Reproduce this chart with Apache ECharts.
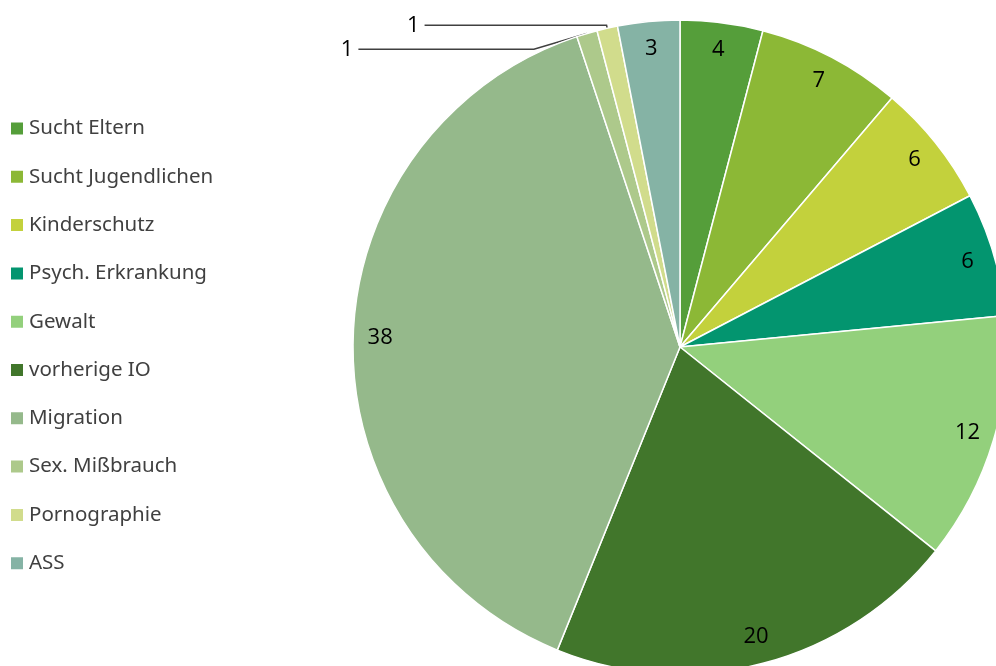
<!DOCTYPE html>
<html>
<head>
<meta charset="utf-8">
<script src="https://cdn.jsdelivr.net/npm/echarts@6/dist/echarts.min.js"></script>
<style>
  html, body { margin: 0; padding: 0; background: #fff; }
  #chart { width: 996px; height: 666px; }
</style>
</head>
<body>
<div id="chart"></div>
<script>
var categories = ['Sucht Eltern', 'Sucht Jugendlichen', 'Kinderschutz', 'Psych. Erkrankung', 'Gewalt',
  'vorherige IO', 'Migration', 'Sex. Mißbrauch', 'Pornographie', 'ASS'];
var values = [4, 7, 6, 6, 12, 20, 38, 1, 1, 3];
var colors = ['#559e3a', '#8cb836', '#c3d13c', '#03956f', '#93d07c',
  '#41762b', '#95b98b', '#adc98b', '#d1dc8c', '#85b3a5'];

var myChart = echarts.init(document.getElementById('chart'));

// small slices get an outside label with a leader line, the rest sit near the rim
var pieData = categories.map(function (name, i) {
  var small = values[i] < 2;
  return {
    name: name,
    value: values[i],
    itemStyle: { color: colors[i] },
    label: { show: small },
    labelLine: { show: small }
  };
});
var ringData = categories.map(function (name, i) {
  return {
    name: name,
    value: values[i],
    itemStyle: { color: 'rgba(0,0,0,0)' },
    label: { show: values[i] >= 2 }
  };
});

var option = {
  animation: false,
  legend: {
    orient: 'vertical',
    left: 9,
    top: 118,
    padding: 0,
    icon: 'rect',
    itemWidth: 14,
    itemHeight: 14,
    itemGap: 27.3,
    data: categories,
    textStyle: { fontFamily: 'Noto Sans', fontSize: 20.5, color: '#404040', lineHeight: 20 }
  },
  series: [
    {
      type: 'pie',
      center: [680, 347],
      radius: [0, 327],
      startAngle: 90,
      clockwise: true,
      itemStyle: { borderColor: '#fff', borderWidth: 1.5 },
      label: {
        position: 'outside',
        formatter: '{c}',
        fontFamily: 'Open Sans',
        fontSize: 22,
        color: '#000'
      },
      labelLine: {
        length: 3,
        length2: 182,
        smooth: false,
        lineStyle: { color: '#404040', width: 1.5 }
      },
      emphasis: { disabled: true },
      data: pieData
    },
    {
      type: 'pie',
      center: [680, 347],
      radius: [267, 327],
      startAngle: 90,
      clockwise: true,
      silent: true,
      label: {
        position: 'inside',
        formatter: '{c}',
        fontFamily: 'Open Sans',
        fontSize: 22,
        color: '#000'
      },
      labelLine: { show: false },
      data: ringData
    }
  ]
};

myChart.setOption(option);
</script>
</body>
</html>
